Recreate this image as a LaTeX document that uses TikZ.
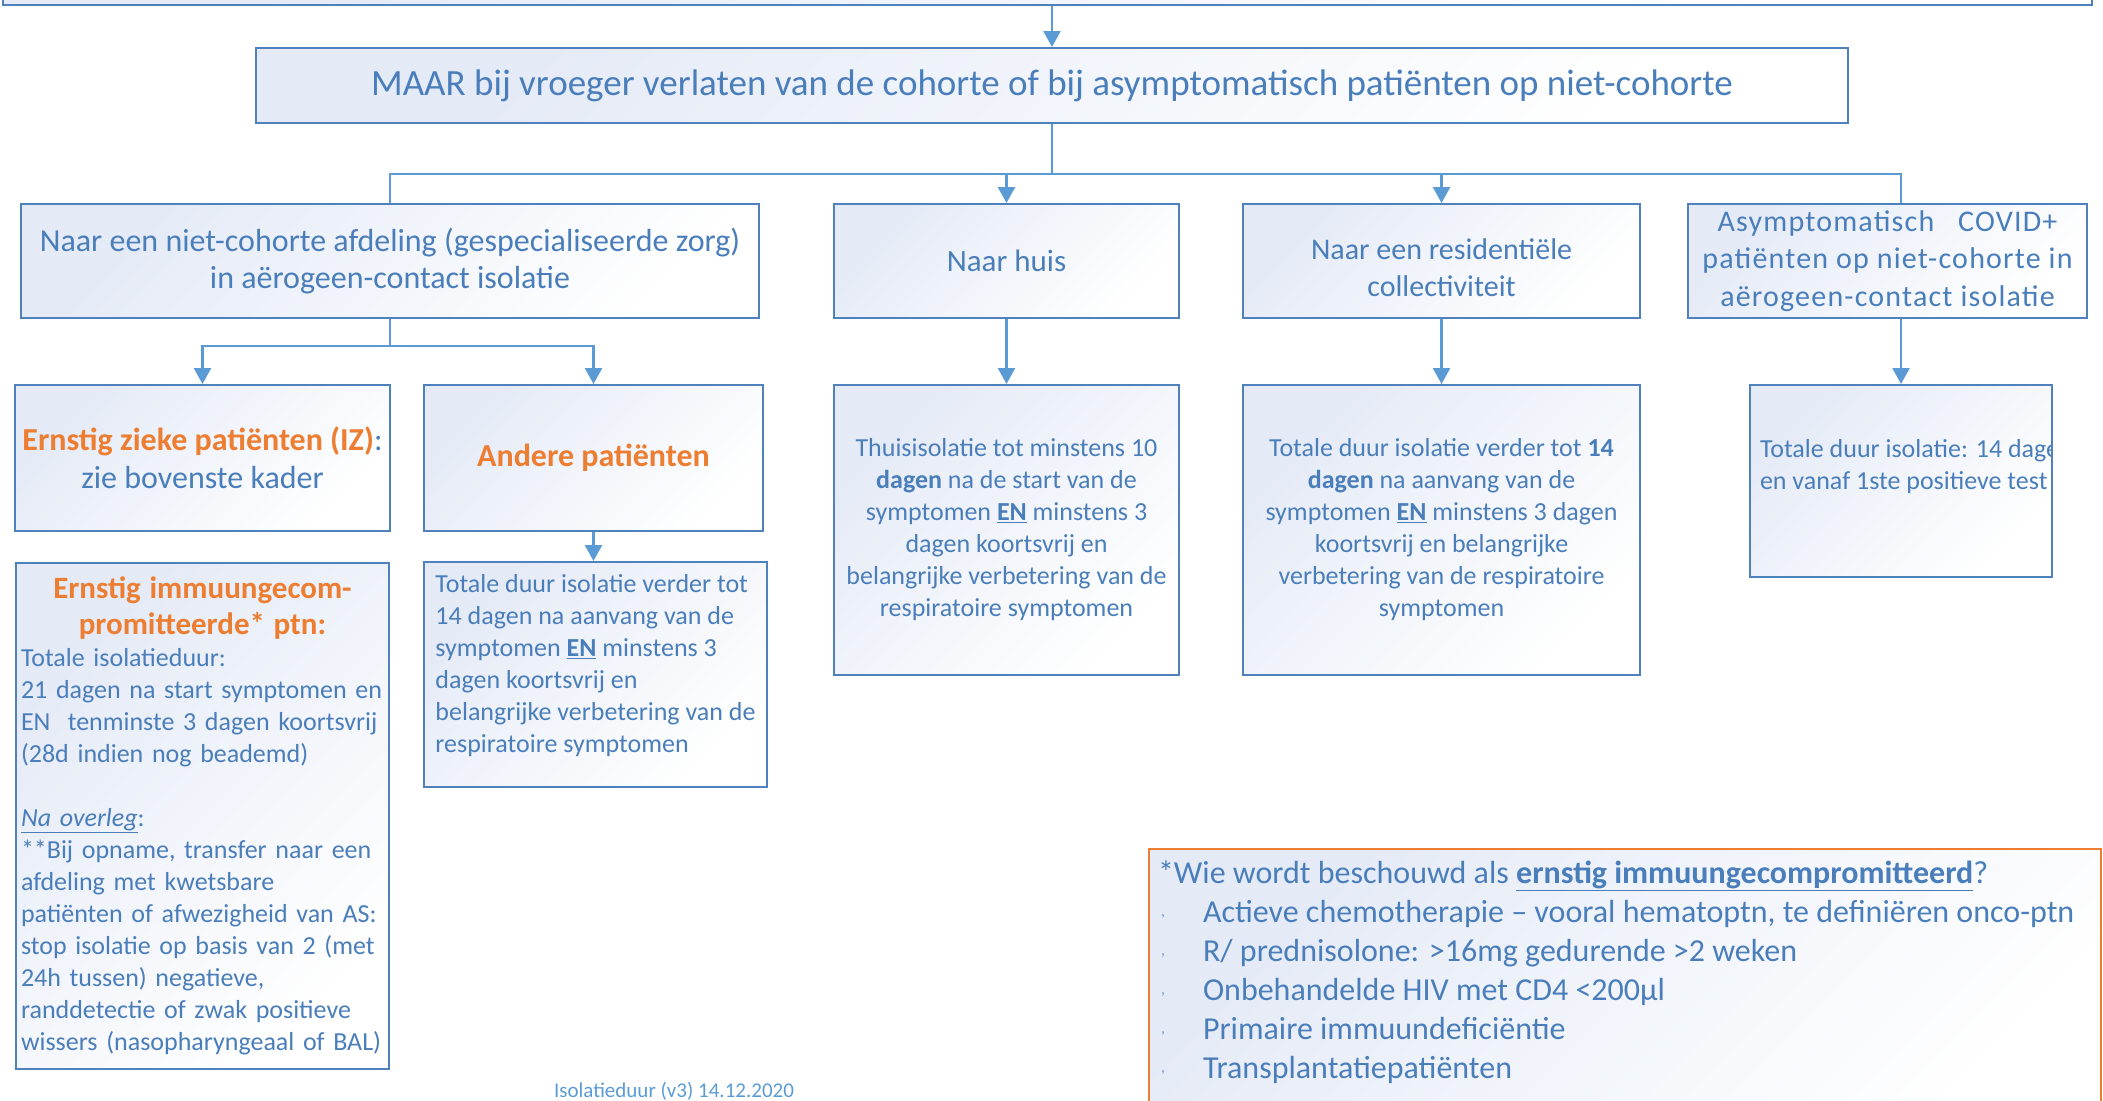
\documentclass[tikz,border=0pt]{standalone}
\usepackage{fontspec}
\setmainfont{Carlito}
\usetikzlibrary{arrows.meta,positioning}
\setlength{\parindent}{0pt}

\definecolor{lijnblauw}{RGB}{79,129,189}
\definecolor{pijlblauw}{RGB}{91,155,213}
\definecolor{tekstblauw}{RGB}{74,126,187}
\definecolor{vulblauw}{RGB}{228,234,246}
\definecolor{oranje}{RGB}{237,125,49}

\newcommand{\oranjetitel}[1]{{\bfseries\color{oranje}#1}}
\newcommand{\nadruk}[1]{\underline{\textbf{#1}}}
\newcommand{\opsomteken}{\makebox[45pt][l]{\hspace{3pt}\raisebox{6pt}{\fontsize{16}{16}\selectfont\color{lijnblauw!80},}}}

\tikzset{
  kader/.style={draw=lijnblauw, line width=2pt, top color=vulblauw, bottom color=white,
    shading angle=45, text=tekstblauw, inner sep=5pt},
  pijl/.style={pijlblauw, line width=2.5pt, -{Triangle[length=16pt,width=17pt]}},
  lijn/.style={pijlblauw, line width=2.5pt},
  groot/.style={font=\fontsize{37}{44}\selectfont},
  middel/.style={font=\fontsize{31}{37.5}\selectfont},
  klein/.style={font=\fontsize{26}{32}\selectfont},
}

\begin{document}
\begin{tikzpicture}[x=1pt, y=-1pt]
  \useasboundingbox (0,0) rectangle (2103,1100);
  \clip (0,0) rectangle (2103,1100);

  % bovenste kader (valt buiten beeld)
  \node[kader, minimum width=2089pt, minimum height=80pt] (vorige) at (1047.5,-35) {};

  \node[kader, groot, minimum width=1592pt, minimum height=75pt] (maar) at (1052,85.5)
    {\raisebox{-4pt}{MAAR bij vroeger verlaten van de cohorte of bij asymptomatisch patiënten op niet-cohorte}};

  % tweede rij
  \node[kader, middel, font=\fontsize{32}{37.5}\selectfont, align=center, minimum width=738pt, minimum height=114pt] (afdeling) at (390,261)
    {Naar een niet-cohorte afdeling (gespecialiseerde zorg)\\in aërogeen-contact isolatie};
  \node[kader, middel, align=center, minimum width=345pt, minimum height=114pt] (huis) at (1006.5,261)
    {Naar huis};
  \node[kader, middel, font=\fontsize{30}{37.5}\selectfont, align=center, minimum width=397pt, minimum height=114pt] (residentieel) at (1441.5,261)
    {\rule{0pt}{34pt}Naar een residentiële\\collectiviteit};
  \node[kader, middel, font=\fontsize{30}{37.5}\selectfont\addfontfeatures{LetterSpace=4}, align=center, minimum width=399pt, minimum height=114pt] (asymp) at (1887.5,261)
    {Asymptomatisch\ \ \ COVID+\\patiënten op niet-cohorte in\\aërogeen-contact isolatie};

  % derde rij
  \node[kader, font=\fontsize{32}{38}\selectfont, align=center, minimum width=375pt, minimum height=146pt] (ziek) at (202.5,458)
    {\oranjetitel{Ernstig zieke patiënten (IZ)}:\\zie bovenste kader};
  \node[kader, align=center, minimum width=339pt, minimum height=146pt] (andere) at (593.5,458)
    {\fontsize{32}{38}\selectfont\oranjetitel{Andere patiënten}};

  \node[kader, klein, align=left, minimum width=343pt, minimum height=225pt] (anderduur) at (595.5,674.5)
    {Totale duur isolatie verder tot\\14 dagen na aanvang van de\\symptomen \nadruk{EN} minstens 3\\dagen koortsvrij en\\belangrijke verbetering van de\\respiratoire symptomen\\[-10pt]};

  \node[kader, klein, text width=363pt, align=left, minimum height=506pt] (immuun) at (202.5,816)
    {{\centering\fontsize{31}{36}\selectfont\oranjetitel{Ernstig immuungecom-\\promitteerde* ptn:}\par}
     Totale isolatieduur:\\
     21 dagen na start symptomen en\\
     EN\ \ tenminste 3 dagen koortsvrij\\
     (28d indien nog beademd)\\[32pt]
     \underline{\textit{Na overleg}}:\\
     {}**Bij opname, transfer naar een\\
     afdeling met kwetsbare\\
     patiënten of afwezigheid van AS:\\
     stop isolatie op basis van 2 (met\\
     24h tussen) negatieve,\\
     randdetectie of zwak positieve\\
     wissers (nasopharyngeaal of BAL)};

  \node[kader, klein, align=center, minimum width=345pt, minimum height=290pt] (huisduur) at (1006.5,530)
    {Thuisisolatie tot minstens 10\\\textbf{dagen} na de start van de\\symptomen \nadruk{EN} minstens 3\\dagen koortsvrij en\\belangrijke verbetering van de\\respiratoire symptomen};
  \node[kader, klein, align=center, minimum width=397pt, minimum height=290pt] (resduur) at (1441.5,530)
    {Totale duur isolatie verder tot \textbf{14}\\\textbf{dagen} na aanvang van de\\symptomen \nadruk{EN} minstens 3 dagen\\koortsvrij en belangrijke\\verbetering van de respiratoire\\symptomen};

  % tekst loopt over de rand en wordt afgeknipt
  \node[kader, minimum width=302pt, minimum height=192pt,
    path picture={\node[klein, text=tekstblauw, align=left, anchor=north west, inner sep=0pt,
        minimum width=0pt, minimum height=0pt]
      at ([xshift=9pt,yshift=-53pt]path picture bounding box.north west)
      {Totale duur isolatie: 14 dagen\\en vanaf 1ste positieve test};}] (asympduur) at (1901,481) {};

  % uitleg onderaan
  \node[kader, draw=oranje, font=\fontsize{32}{39}\selectfont, align=left, anchor=north west,
    inner xsep=9pt, inner ysep=12pt, text depth=45pt] (ernstig) at (1148,848)
    {\makebox[934pt][l]{*Wie wordt beschouwd als \nadruk{ernstig immuungecompromitteerd}?}\\
     \opsomteken Actieve chemotherapie -- vooral hematoptn, te definiëren onco-ptn\\
     \opsomteken R/ prednisolone: >16mg gedurende >2 weken\\
     \opsomteken Onbehandelde HIV met CD4 <200µl\\
     \opsomteken Primaire immuundeficiëntie\\
     \opsomteken Transplantatiepatiënten};

  \node[text=pijlblauw, font=\fontsize{21}{25}\selectfont] (versie) at (674,1091)
    {Isolatieduur (v3) 14.12.2020};

  % verbindingen
  \coordinate (tak) at (1052,174);
  \coordinate (tak2) at (390,346);

  \draw[pijl] (vorige.south -| maar.north) -- (maar.north);
  \draw[lijn] (maar.south) -- (tak);
  \draw[lijn] (afdeling.north) |- (tak) -| (asymp.north -| asympduur.north);
  \draw[pijl] (tak -| huis.north) -- (huis.north);
  \draw[pijl] (tak -| residentieel.north) -- (residentieel.north);

  \draw[lijn] (afdeling.south) -- (tak2);
  \draw[pijl] (tak2) -| (ziek.north);
  \draw[pijl] (tak2) -| (andere.north);
  \draw[pijl] (andere.south) -- (andere.south |- anderduur.north);
  \draw[pijl] (huis.south) -- (huisduur.north);
  \draw[pijl] (residentieel.south) -- (resduur.north);
  \draw[pijl] (asymp.south -| asympduur.north) -- (asympduur.north);
\end{tikzpicture}
\end{document}
